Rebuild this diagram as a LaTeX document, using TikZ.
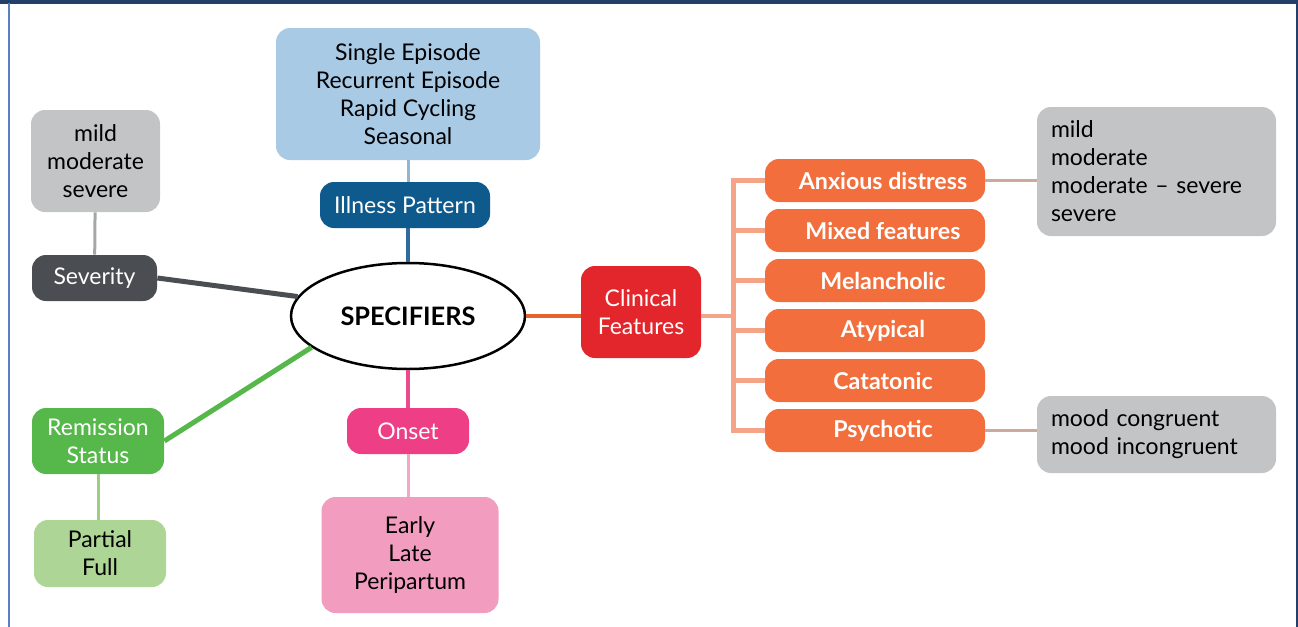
\documentclass[tikz,border=0pt]{standalone}
\usepackage{fontspec}
\setmainfont{Lato}
\usepackage{tikz}
\usetikzlibrary{shapes,positioning,calc}
\definecolor{navy}{HTML}{243F69}
\definecolor{frameblue}{HTML}{5B7FC0}
\definecolor{patblue}{HTML}{A8CAE5}
\definecolor{illblue}{HTML}{0F5A8D}
\definecolor{patline}{HTML}{8FB5D9}
\definecolor{illline}{HTML}{2E6B9F}
\definecolor{listgray}{HTML}{C3C4C6}
\definecolor{sevgray}{HTML}{4A4D51}
\definecolor{sevline}{HTML}{A5A6A8}
\definecolor{remgreen}{HTML}{56B84A}
\definecolor{lightgreen}{HTML}{ACD596}
\definecolor{remline}{HTML}{9ACF80}
\definecolor{onsetpink}{HTML}{EE3F86}
\definecolor{lightpink}{HTML}{F29DC0}
\definecolor{onsetline}{HTML}{E94B8E}
\definecolor{onlistline}{HTML}{F5A6C6}
\definecolor{clinred}{HTML}{E2262B}
\definecolor{clinline}{HTML}{E8622F}
\definecolor{forkorange}{HTML}{F5A487}
\definecolor{featorange}{HTML}{F26F3D}
\definecolor{greyline}{HTML}{CCA99C}

\begin{document}
\begin{tikzpicture}[x=0.5pt,y=-0.5pt,
	box/.style={rounded corners=7pt,align=center,inner sep=0pt,font=\fontsize{11.5}{14}\selectfont},
	head/.style={box,text=white},
	feat/.style={box,fill=featorange,text=white,minimum width=110pt,minimum height=21.5pt,font=\fontsize{11.6}{13}\selectfont\bfseries},
	link/.style={line width=1.5pt}]
	\useasboundingbox (0,0) rectangle (1298,627);
	
	% frame
	\fill[navy] (0,0) rectangle (1298,3.5);
	\draw[frameblue,line width=1pt] (8.5,3) -- (8.5,627);
	\draw[navy,line width=1pt] (1296.5,3) -- (1296.5,627);
	
	\node[ellipse,draw,line width=1.25pt,fill=white,minimum width=117pt,minimum height=53pt,font=\fontsize{12.7}{14}\selectfont\bfseries] (spec) at (408,316) {SPECIFIERS};
	
	\node[box,fill=patblue,minimum width=132pt,minimum height=66pt] (pat) at (408,94) {Single Episode\\Recurrent Episode\\Rapid Cycling\\Seasonal};
	\node[head,fill=illblue,minimum width=85pt,minimum height=23pt] (ill) at (405,205) {Illness Pattern};
	
	\node[box,fill=listgray,minimum width=64.5pt,minimum height=51pt] (sevlist) at (95.5,161) {mild\\moderate\\severe};
	\node[head,fill=sevgray,minimum width=62.5pt,minimum height=23pt] (sev) at (94.5,278) {Severity};
	
	\node[head,fill=remgreen,minimum width=66pt,minimum height=33pt] (rem) at (98,441) {Remission\\Status};
	\node[box,fill=lightgreen,minimum width=66pt,minimum height=33.5pt] (remlist) at (100,553.5) {Partial\\Full};
	
	\node[head,fill=onsetpink,minimum width=61pt,minimum height=23pt] (onset) at (408,431) {Onset};
	\node[box,fill=lightpink,minimum width=88.5pt,minimum height=58pt] (onlist) at (410,555) {Early\\Late\\Peripartum};
	
	\node[head,fill=clinred,minimum width=60pt,minimum height=46pt] (clin) at (641,312) {Clinical\\Features};
	
	\foreach \name/\txt [count=\i from 0] in {anx/Anxious distress,mix/Mixed features,mel/Melancholic,aty/Atypical,cat/Catatonic,psy/Psychotic}
		\node[feat] (\name) at (875,180.5+50*\i) {\hspace*{8pt}\txt};
	
	\node[box,fill=listgray,minimum width=119.5pt,minimum height=64.5pt,align=left,text width=105.5pt] (sevr) at (1156.5,171.5) {mild\\moderate\\moderate – severe\\severe};
	\node[box,fill=listgray,minimum width=119.5pt,minimum height=38.5pt,align=left,text width=105.5pt] (psyr) at (1156.5,434.5) {mood congruent\\mood incongruent};
	
	% connectors
	\draw[link,patline] (pat.south) -- (pat.south |- ill.north);
	\draw[link,line width=2pt,illline] (pat.south |- ill.south) -- (spec.north);
	\draw[link,sevline] (sevlist) -- (sev);
	\draw[line width=2.5pt,sevgray] (sev.east) -- (spec.170);
	\draw[line width=2.5pt,remgreen] (rem.east) -- (spec.198);
	\draw[link,remline] (rem.south) -- (rem.south |- remlist.north);
	\draw[line width=2pt,onsetline] (spec.south) -- (spec.south |- onset.north);
	\draw[link,onlistline] (spec.south |- onset.south) -- (spec.south |- onlist.north);
	\draw[line width=2pt,clinline] (spec.east) -- (spec.east -| clin.west);
	
	\coordinate (fork) at (733,316);
	\draw[line width=2pt,forkorange] (clin.east |- fork) -- (fork);
	\draw[line width=2.5pt,forkorange] (anx.west) -| (fork) |- (psy.west);
	\foreach \name in {mix,mel,aty,cat}
		\draw[line width=2.5pt,forkorange] (\name.west -| fork) -- (\name.west);
	
	\draw[link,greyline] (anx.east) -- (anx.east -| sevr.west);
	\draw[link,greyline] (psy.east) -- (psy.east -| psyr.west);
\end{tikzpicture}
\end{document}
